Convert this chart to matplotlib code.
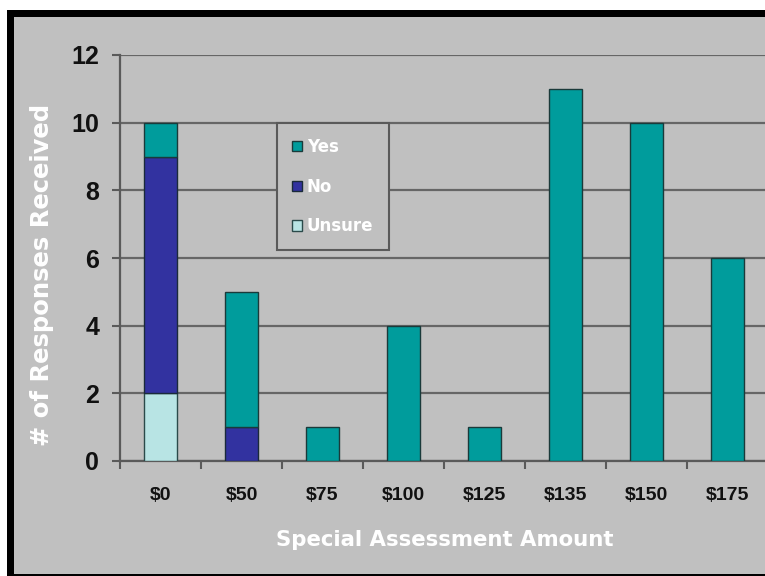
import matplotlib.pyplot as plt
from matplotlib.patches import Rectangle
from matplotlib.transforms import Bbox, TransformedBbox

# datos
categories = ["$0", "$50", "$75", "$100", "$125", "$135", "$150", "$175"]
unsure = [2, 0, 0, 0, 0, 0, 0, 0]
no = [7, 1, 0, 0, 0, 0, 0, 0]
yes = [1, 4, 1, 4, 1, 11, 10, 6]
y_ticks = [0, 2, 4, 6, 8, 10, 12]

W, H = 765, 576
gray = "#c0c0c0"
dark = "#5a5a5a"
teal = "#009c9c"
navy = "#3232a0"
light = "#b8e4e4"

fig = plt.figure(figsize=(W / 100, H / 100), dpi=100)
fig.patch.set_facecolor("white")

# marco negro y fondo gris
fig.patches.append(Rectangle((7 / W, 0), 1, 1 - 10 / H, transform=fig.transFigure,
                             facecolor="black", edgecolor="none", zorder=-3))
fig.patches.append(Rectangle((14 / W, 2 / H), 1, 1 - 19 / H, transform=fig.transFigure,
                             facecolor=gray, edgecolor="none", zorder=-2))

ax = fig.add_axes([120 / W, 1 - 461 / H, 648 / W, 406 / H])
ax.set_facecolor(gray)

x = list(range(len(categories)))
bottom_no = unsure
bottom_yes = [u + n for u, n in zip(unsure, no)]
bw = 0.41
ax.bar(x, unsure, bw, color=light, edgecolor="#2a4a4a", linewidth=1, zorder=3, label="Unsure")
ax.bar(x, no, bw, bottom=bottom_no, color=navy, edgecolor="#1a2a3a", linewidth=1, zorder=3, label="No")
ax.bar(x, yes, bw, bottom=bottom_yes, color=teal, edgecolor="#1a3a3a", linewidth=1, zorder=3, label="Yes")

ax.set_xlim(-0.5, 7.5)
ax.set_ylim(0, 12)

ax.set_yticks(y_ticks)
ax.set_yticklabels([str(v) for v in y_ticks], fontsize=18, fontweight="bold",
                   family="Liberation Sans", color="#111111")
ax.yaxis.grid(True, color="#666666", linewidth=1.6, zorder=0)
ax.set_axisbelow(True)

ax.set_xticks([i - 0.5 for i in range(len(categories) + 1)])
ax.set_xticklabels([])
ax.set_xticks(x, minor=True)
ax.set_xticklabels(categories, minor=True, fontsize=14, fontweight="bold",
                   family="Liberation Sans", color="#111111")
ax.tick_params(axis="x", which="major", length=6, width=1.5, color=dark, direction="out")
ax.tick_params(axis="x", which="minor", length=0, pad=19)
ax.tick_params(axis="y", length=6, width=1.5, color=dark, direction="out", pad=9)

for s in ["top", "right"]:
    ax.spines[s].set_visible(False)
for s in ["left", "bottom"]:
    ax.spines[s].set_color(dark)
    ax.spines[s].set_linewidth(1.6)

fig.text(445 / W, 1 - 540 / H, "Special Assessment Amount", color="white", fontsize=15.3,
         fontweight="bold", family="DejaVu Sans", ha="center", va="center")

# etiqueta del eje y recortada arriba, como en el original
yl = fig.text(42 / W, 1 - 446 / H, "# of Responses Received", color="white", fontsize=17.5,
              fontweight="bold", family="DejaVu Sans", rotation=90, ha="center", va="bottom")
yl.set_clip_box(TransformedBbox(Bbox([[0, 0], [1, 1 - 106 / H]]), fig.transFigure))
yl.set_clip_on(True)

handles, labels = ax.get_legend_handles_labels()
leg = fig.legend(handles[::-1], labels[::-1], loc="upper left",
                 bbox_to_anchor=(277 / W, 1 - 123 / H), bbox_transform=fig.transFigure,
                 frameon=True, fancybox=False, facecolor=gray, edgecolor=dark, framealpha=1,
                 prop={"family": "DejaVu Sans", "weight": "bold", "size": 12},
                 handlelength=0.6, handleheight=0.6, handletextpad=0.3, labelspacing=1.3,
                 borderpad=0.9, borderaxespad=0)
leg.get_frame().set_linewidth(1.5)
for t in leg.get_texts():
    t.set_color("white")

fig.savefig("out.png", dpi=100, facecolor=fig.get_facecolor())
